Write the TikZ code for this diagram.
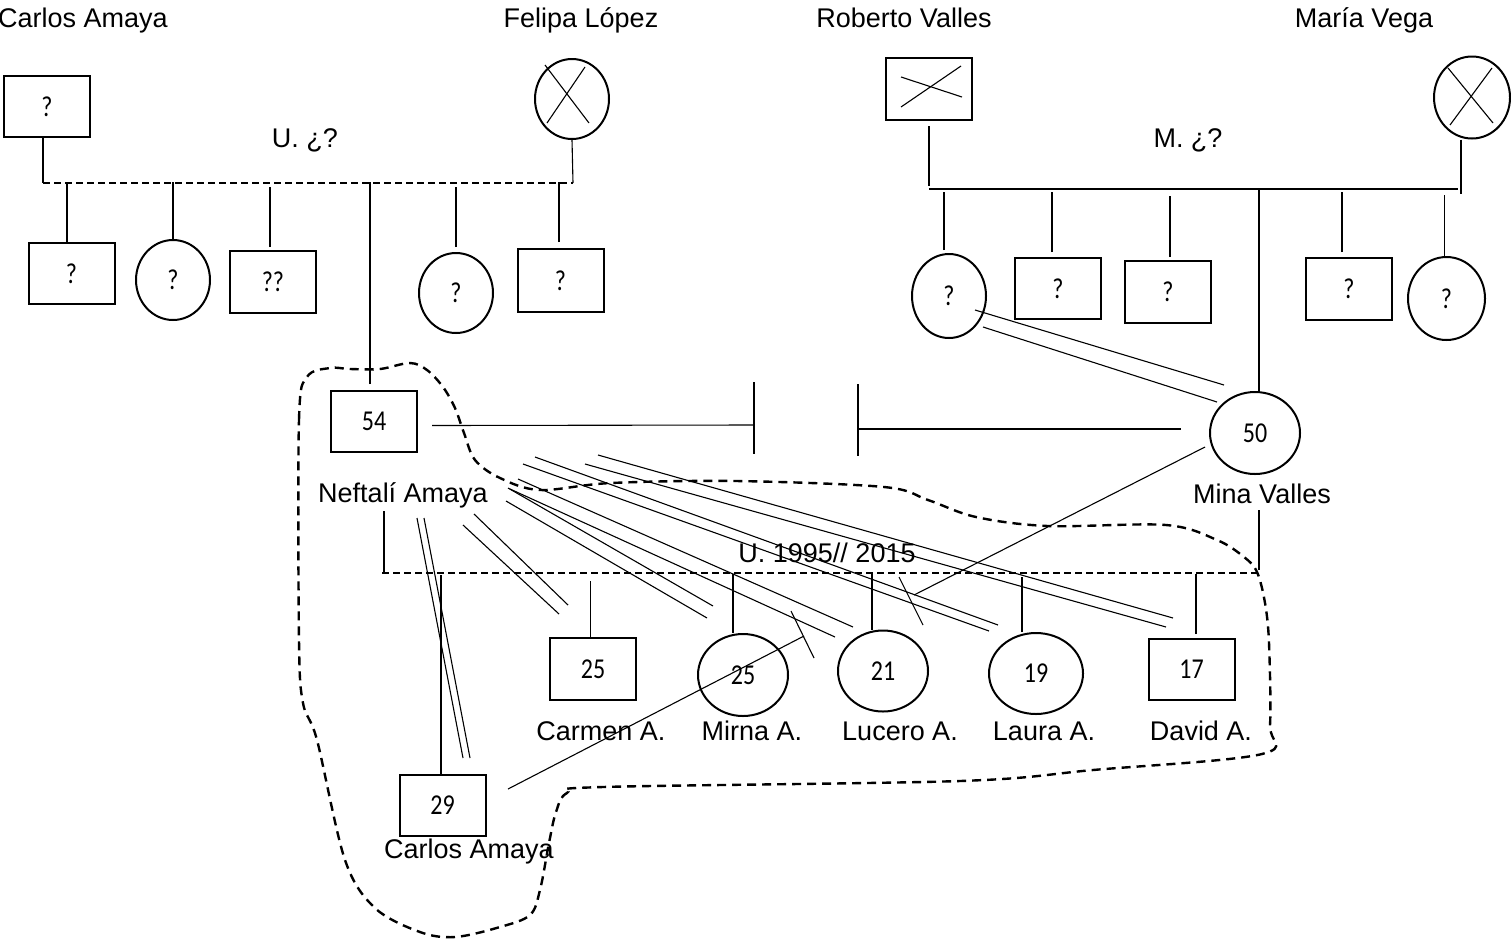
\documentclass[tikz,border=0pt]{standalone}
\usepackage{fontspec}
\setmainfont{Liberation Sans}
\newfontfamily\agefam{Carlito}
\usepackage{tikz}
\usetikzlibrary{shapes.geometric,calc}
\newcommand{\age}[1]{\scalebox{1}[1.2]{#1}}

\begin{document}
\begin{tikzpicture}[x=1pt,y=-1pt,
  male/.style={draw,line width=2pt,minimum width=86pt,minimum height=61pt,inner sep=0pt,font=\agefam\fontsize{24}{24}\selectfont},
  female/.style={draw,ellipse,line width=2pt,minimum width=74pt,minimum height=80pt,inner sep=0pt,font=\agefam\fontsize{24}{24}\selectfont},
  lbl/.style={anchor=base,inner sep=0pt,font=\fontsize{27}{27}\selectfont},
  link/.style={line width=1.1pt},
  union/.style={line width=2pt,dash pattern=on 7pt off 4pt},
  zone/.style={line width=2.4pt,dash pattern=on 9pt off 6pt}]
\useasboundingbox (0,0) rectangle (1511,938);

\node[lbl] (tca) at (83,27) {Carlos Amaya};
\node[lbl] (tfl) at (581,27) {Felipa López};
\node[lbl] (trv) at (904,27) {Roberto Valles};
\node[lbl] (tmv) at (1364,27) {María Vega};
\node[lbl] (u1txt) at (305,147) {U. ¿?};
\node[lbl] (u2txt) at (1188,147) {M. ¿?};

\node[male] (pca) at (47,106.5) {\age{?}};
\node[female] (pfl) at (572,99) {};
\draw[link] (545,65) -- (589,123);
\draw[link] (547,123) -- (585,67);
\coordinate (u1l) at (43,183);
\coordinate (u1r) at (573,183);
\draw[link] ([xshift=-4pt]pca.south) -- (u1l);
\draw[link] (pfl.south) -- (u1r);
\draw[union] (u1l) -- (u1r);

\node[male] (k1) at (71.5,273.5) {\age{?}};
\node[female] (k2) at (173,280) {\age{?}};
\node[male,minimum height=62pt] (k3) at (273,282) {\age{??}};
\node[female] (k4) at (456,293) {\age{?}};
\node[male,minimum height=63pt] (k5) at (560.5,280.5) {\age{?}};
\draw[link] ([xshift=-4.5pt]k1.north) -- ++(0,-60);
\draw[link] (k2.north) -- ++(0,-57);
\draw[link] ([xshift=-3pt,yshift=3pt]k3.north) -- ++(0,-60);
\draw[link] ([yshift=5pt]k4.north) -- ++(0,-60);
\draw[link] ([xshift=-1.5pt,yshift=6pt]k5.north) -- ++(0,-60);

\node[male,minimum height=62pt] (prv) at (929,89) {};
\draw[link] (901,77) -- (962,97);
\draw[link] (901,107) -- (961,66);
\node[female,minimum width=76pt,minimum height=82pt] (pmv) at (1472,97.5) {};
\draw[link] (1448,68) -- (1493,123);
\draw[link] (1450,125) -- (1492,68);
\coordinate (u2l) at (929,189);
\coordinate (u2r) at (1458,189);
\draw[link] ([yshift=-5pt]prv.south) -- ++(0,60);
\draw[link] ([xshift=-11pt]pmv.south) -- ++(0,54);
\draw[link] (u2l) -- (u2r);

\node[female,minimum height=84pt] (r1) at (949,296) {\age{?}};
\node[male] (r2) at (1058,288.5) {\age{?}};
\node[male,minimum height=62pt] (r3) at (1168,292) {\age{?}};
\node[male,minimum height=62pt] (r4) at (1349,289) {\age{?}};
\node[female,minimum width=77pt,minimum height=83pt] (r5) at (1446.5,298.5) {\age{?}};
\draw[link] ([xshift=-5pt,yshift=3pt]r1.north) -- ++(0,-58);
\draw[link] ([xshift=-6pt,yshift=5pt]r2.north) -- ++(0,-60);
\draw[link] ([xshift=2pt,yshift=3pt]r3.north) -- ++(0,-61);
\draw[link] ([xshift=-7pt,yshift=5pt]r4.north) -- ++(0,-60);
\draw[link] ([xshift=-2pt]r5.north) -- ++(0,-61);

\node[male] (nef) at (374,421.5) {\age{54}};
\node[lbl] (tnef) at (403,502) {Neftalí Amaya};
\node[female,minimum width=90pt,minimum height=82pt] (mina) at (1255,433) {\age{50}};
\node[lbl] (tmina) at (1262,503) {Mina Valles};
\draw[link] ([xshift=-4pt,yshift=6pt]nef.north) -- ++(0,-202);
\draw[link] ([xshift=4pt]mina.north) -- ++(0,-202);

\coordinate (sepl) at (754,425);
\coordinate (sepr) at (858,429);
\draw[link] ([xshift=14pt,yshift=-4pt]nef.east) -- (sepl);
\draw[link] (sepl) ++(0,-43) -- ++(0,72);
\draw[link] (sepr) ++(0,-45) -- ++(0,72);
\draw[link] (sepr) -- ([xshift=-28pt,yshift=4pt]mina.west);

\coordinate (u3l) at (382,573);
\coordinate (u3r) at (1258,573);
\draw[union] (u3l) -- (u3r);
\draw[link] (u3l) ++(2,-1) -- ++(0,-61);
\draw[link] (u3r) ++(1,-3) -- ++(0,-60);
\node[lbl] (u3txt) at (827,562) {U. 1995// 2015};

\node[male,minimum height=62pt] (cm) at (593,669) {\age{25}};
\node[female,minimum width=90pt,minimum height=82pt] (mr) at (743,675) {\age{25}};
\node[female,minimum width=90pt,minimum height=81pt] (lc) at (883,671) {\age{21}};
\node[female,minimum width=94pt,minimum height=81pt] (la) at (1036,673.5) {\age{19}};
\node[male] (dv) at (1191.5,669.5) {\age{17}};
\node[male] (cl) at (442.5,805.5) {\age{29}};
\draw[link] ([xshift=-2.5pt]cm.north) -- ++(0,-56);
\draw[link] ([xshift=-10pt]mr.north) -- ++(0,-59);
\draw[link] ([xshift=-11pt]lc.north) -- ++(0,-58);
\draw[link] ([xshift=-14pt]la.north) -- ++(0,-55);
\draw[link] ([xshift=4.5pt,yshift=4pt]dv.north) -- ++(0,-60);
\draw[link] ([xshift=-1.5pt]cl.north) -- ++(0,-199);
\node[lbl] (tcm) at (601,740) {Carmen A.};
\node[lbl] (tmr) at (752,740) {Mirna A.};
\node[lbl] (tlc) at (900,740) {Lucero A.};
\node[lbl] (tla) at (1044,740) {Laura A.};
\node[lbl] (tdv) at (1201,740) {David A.};
\node[lbl] (tcl) at (469,858) {Carlos Amaya};

\draw[link] (417,518) -- (463,758);
\draw[link] (424,518) -- (470,758);
\draw[link] (463,525) -- (559,614);
\draw[link] (474,514) -- (568,605);
\draw[link] (506,501) -- (707,618);
\draw[link] (508,488) -- (713,606);
\draw[link] (510,489) -- (835,637);
\draw[link] (518,479) -- (853,627);
\draw[link] (523,464) -- (989,631);
\draw[link] (535,457) -- (998,625);
\draw[link] (585,464) -- (1166,627);
\draw[link] (598,455) -- (1173,618);
\draw[link] (975,310) -- (1224,385);
\draw[link] (983,327) -- (1217,402);
\draw[link] (1205,447) -- (914,595);
\draw[link] (899,577) -- (923,625);
\draw[link] (508,789) -- (804,636);
\draw[link] (791,611) -- (814,658);

\draw[zone] plot[smooth cycle,tension=0.55] coordinates {(299,640) (299,420) (307,377) (330,368) (350,369) (380,369) (410,363) (427,370) (443,387) (455,408) (464,433) (475,460) (500,478) (540,490) (611,483) (736,481) (884,487) (928,500) (976,517) (1048,526) (1166,525) (1217,540) (1244,557) (1257,572) (1265,603) (1269,643) (1270,725) (1262,754) (1093,770) (960,781) (603,787) (567,793) (556,812) (549,843) (540,890) (530,915) (500,927) (455,937) (420,932) (375,908) (345,860) (317,740) (303,703)};
\end{tikzpicture}
\end{document}
